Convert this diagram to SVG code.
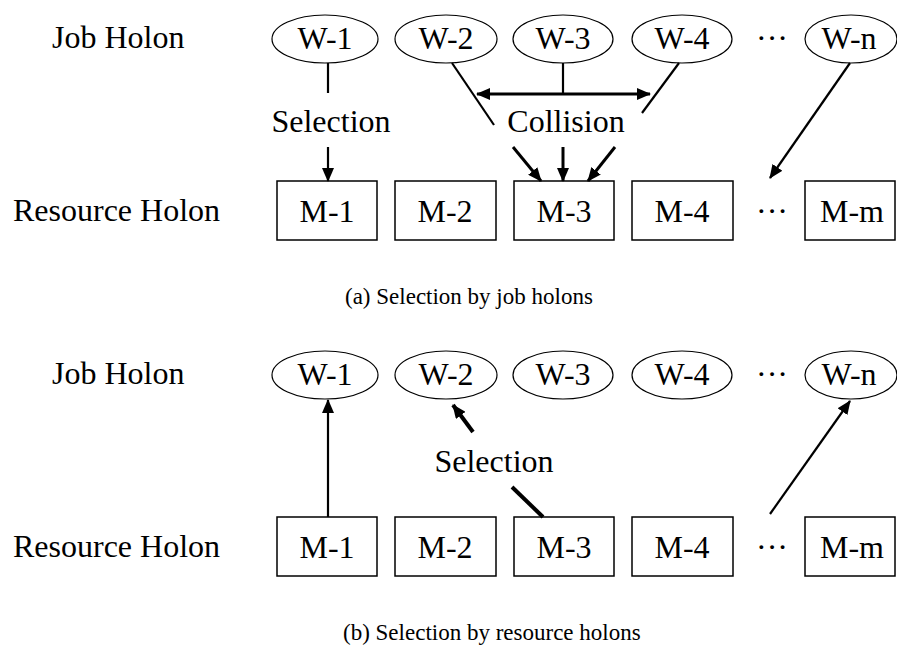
<svg xmlns="http://www.w3.org/2000/svg" width="897" height="652" viewBox="0 0 897 652" font-family="'Liberation Serif', 'DejaVu Serif', serif">
<defs>
<style>
text{font-family:'Liberation Serif','DejaVu Serif',serif;fill:#000}
.lbl{font-size:32px}
.node{font-size:32px;text-anchor:middle}
.cap{font-size:23px}
ellipse{fill:#fff;stroke:#000;stroke-width:1.2}
rect.box{fill:#fff;stroke:#000;stroke-width:1.5}
.ln{stroke:#000;stroke-width:2.2;fill:none}
.th{stroke:#000;stroke-width:3;fill:none}
.tk{stroke:#000;stroke-width:4;fill:none}
</style>
<marker id="ah" markerUnits="userSpaceOnUse" markerWidth="14" markerHeight="12" viewBox="0 0 14 12" refX="13" refY="6" orient="auto">
<path d="M0,0 L14,6 L0,12 Z" fill="#000"/>
</marker>
<marker id="ahs" markerUnits="userSpaceOnUse" markerWidth="14" markerHeight="12" viewBox="0 0 14 12" refX="1" refY="6" orient="auto">
<path d="M14,0 L0,6 L14,12 Z" fill="#000"/>
</marker>
</defs>
<rect x="0" y="0" width="897" height="652" fill="#fff"/>

<g id="labels">
<text class="lbl" x="52" y="48">Job Holon</text>
<text class="lbl" x="13" y="221">Resource Holon</text>
<text class="lbl" x="52" y="384">Job Holon</text>
<text class="lbl" x="13" y="557">Resource Holon</text>
<text class="cap" x="345" y="304">(a) Selection by job holons</text>
<text class="cap" x="343" y="640">(b) Selection by resource holons</text>
</g>

<!-- Part (a) -->
<g id="a-W1"><ellipse cx="325" cy="39" rx="53" ry="24"/><text class="node" x="325" y="49">W-1</text></g>
<g id="a-W2"><ellipse cx="446" cy="39" rx="51" ry="24"/><text class="node" x="446" y="49">W-2</text></g>
<g id="a-W3"><ellipse cx="563" cy="39" rx="50" ry="24"/><text class="node" x="563" y="49">W-3</text></g>
<g id="a-W4"><ellipse cx="682" cy="39" rx="50" ry="24"/><text class="node" x="682" y="49">W-4</text></g>
<text class="node" x="772" y="49">···</text>
<g id="a-Wn"><ellipse cx="851" cy="39" rx="46" ry="24"/><text class="node" x="849" y="49">W-n</text></g>

<g id="a-M1"><rect class="box" x="277" y="181" width="100" height="59"/><text class="node" x="327" y="222">M-1</text></g>
<g id="a-M2"><rect class="box" x="395" y="181" width="101" height="59"/><text class="node" x="445" y="222">M-2</text></g>
<g id="a-M3"><rect class="box" x="514" y="181" width="100" height="59"/><text class="node" x="564" y="222">M-3</text></g>
<g id="a-M4"><rect class="box" x="632" y="181" width="101" height="59"/><text class="node" x="682" y="222">M-4</text></g>
<text class="node" x="772" y="222">···</text>
<g id="a-Mm"><rect class="box" x="805" y="181" width="90" height="59"/><text class="node" x="852" y="222">M-m</text></g>

<text id="a-sel" class="node" x="331" y="132">Selection</text>
<text id="a-col" class="node" x="566" y="132">Collision</text>

<g id="a-connectors">
<line class="ln" x1="328" y1="63" x2="328" y2="93"/>
<line class="ln" x1="328" y1="147" x2="328" y2="181" marker-end="url(#ah)"/>
<line class="ln" x1="563" y1="63" x2="563" y2="94"/>
<line class="th" x1="477" y1="94" x2="650" y2="94" marker-start="url(#ahs)" marker-end="url(#ah)"/>
<line class="ln" x1="452" y1="63" x2="494" y2="125"/>
<line class="ln" x1="679" y1="63" x2="642" y2="113"/>
<line class="th" x1="513" y1="147" x2="541" y2="181" marker-end="url(#ah)"/>
<line class="th" x1="563" y1="147" x2="563" y2="181" marker-end="url(#ah)"/>
<line class="th" x1="615" y1="147" x2="588" y2="181" marker-end="url(#ah)"/>
<line class="ln" x1="850" y1="63" x2="770" y2="178" marker-end="url(#ah)"/>
</g>

<!-- Part (b) -->
<g id="b-W1"><ellipse cx="325" cy="375" rx="53" ry="24"/><text class="node" x="325" y="385">W-1</text></g>
<g id="b-W2"><ellipse cx="446" cy="375" rx="51" ry="24"/><text class="node" x="446" y="385">W-2</text></g>
<g id="b-W3"><ellipse cx="563" cy="375" rx="50" ry="24"/><text class="node" x="563" y="385">W-3</text></g>
<g id="b-W4"><ellipse cx="682" cy="375" rx="50" ry="24"/><text class="node" x="682" y="385">W-4</text></g>
<text class="node" x="772" y="385">···</text>
<g id="b-Wn"><ellipse cx="851" cy="375" rx="46" ry="24"/><text class="node" x="849" y="385">W-n</text></g>

<g id="b-M1"><rect class="box" x="277" y="517" width="100" height="59"/><text class="node" x="327" y="558">M-1</text></g>
<g id="b-M2"><rect class="box" x="395" y="517" width="101" height="59"/><text class="node" x="445" y="558">M-2</text></g>
<g id="b-M3"><rect class="box" x="514" y="517" width="100" height="59"/><text class="node" x="564" y="558">M-3</text></g>
<g id="b-M4"><rect class="box" x="632" y="517" width="101" height="59"/><text class="node" x="682" y="558">M-4</text></g>
<text class="node" x="772" y="558">···</text>
<g id="b-Mm"><rect class="box" x="805" y="517" width="90" height="59"/><text class="node" x="852" y="558">M-m</text></g>

<text id="b-sel" class="node" x="494" y="472">Selection</text>

<g id="b-connectors">
<line class="ln" x1="328" y1="517" x2="328" y2="400" marker-end="url(#ah)"/>
<line class="tk" x1="473" y1="432" x2="453" y2="405" marker-end="url(#ah)"/>
<line class="tk" x1="512" y1="487" x2="543" y2="517"/>
<line class="ln" x1="770" y1="514" x2="850" y2="401" marker-end="url(#ah)"/>
</g>
</svg>
